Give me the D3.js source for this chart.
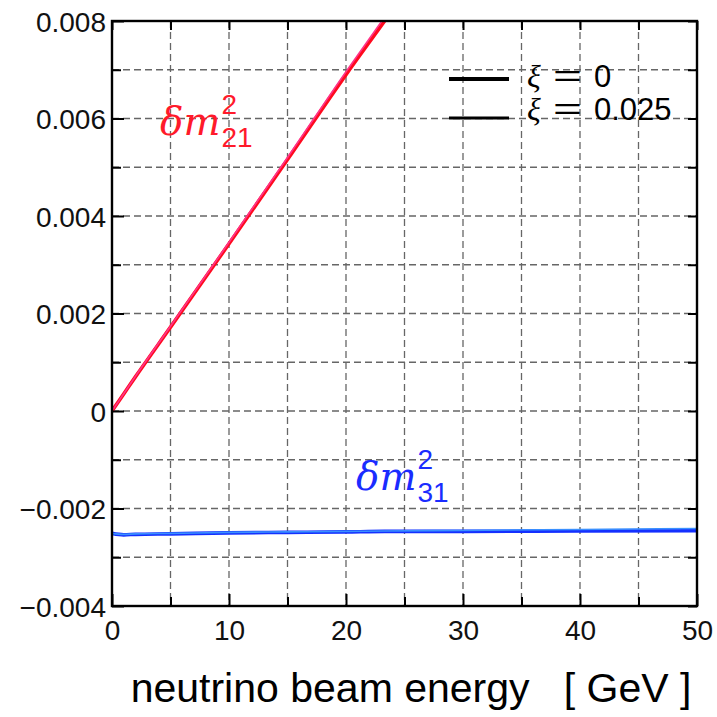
<!DOCTYPE html>
<html><head><meta charset="utf-8">
<script src="https://cdn.jsdelivr.net/npm/d3@7"></script>
<style>body{margin:0;background:#fff}svg{display:block}</style>
</head><body>
<script>
// Data (energy in GeV, effective mass-squared differences in eV^2)
const energy = [0, 1, 2, 5, 10, 15, 20, 23.3, 30, 40, 50];
const dm21_xi0     = [0, 0.00035, 0.00070, 0.00172, 0.00343, 0.00516, 0.00690, 0.00800, 0.0103, 0.0137, 0.0172];
const dm21_xi025   = [0, 0.000355, 0.00071, 0.00174, 0.00346, 0.00520, 0.00696, 0.00808, 0.0104, 0.0138, 0.0173];
const dm31_xi0     = [-0.00251, -0.00254, -0.00253, -0.00252, -0.00250, -0.00249, -0.00248, -0.00247, -0.00247, -0.00246, -0.002455];
const dm31_xi025   = [-0.00251, -0.00253, -0.00252, -0.00251, -0.00249, -0.00248, -0.00247, -0.00246, -0.00245, -0.00243, -0.00241];
const xTicks = [0, 10, 20, 30, 40, 50];
const xMinor = [0, 5, 10, 15, 20, 25, 30, 35, 40, 45, 50];
const yTicks = [-0.004, -0.002, 0, 0.002, 0.004, 0.006, 0.008];
const yMinor = [-0.004, -0.003, -0.002, -0.001, 0, 0.001, 0.002, 0.003, 0.004, 0.005, 0.006, 0.007, 0.008];
const yTickLabels = ["\u22120.004", "\u22120.002", "0", "0.002", "0.004", "0.006", "0.008"];
const legendLabels = ["0", "0.025"];
const xTitle = "neutrino beam energy   [ GeV ]";

const W = 717, H = 717;
const L = 112, R = 697, T = 21, B = 606;
const svg = d3.select("body").append("svg").attr("width", W).attr("height", H);
const x = d3.scaleLinear().domain([0, 50]).range([L, R]);
const y = d3.scaleLinear().domain([-0.004, 0.008]).range([B, T]);

const defs = svg.append("defs");
defs.append("clipPath").attr("id", "clip").append("rect")
  .attr("x", L).attr("y", T).attr("width", R - L).attr("height", B - T);

// grid
const grid = svg.append("g").attr("stroke", "#666").attr("stroke-width", 1.3).attr("stroke-dasharray", "7,4");
grid.selectAll("line.v").data(xMinor.slice(1, -1)).join("line")
  .attr("x1", d => x(d)).attr("x2", d => x(d)).attr("y1", T).attr("y2", B);
grid.selectAll("line.h").data(yMinor.slice(1, -1)).join("line").attr("class", "h")
  .attr("y1", d => y(d)).attr("y2", d => y(d)).attr("x1", L).attr("x2", R);

// curves
const line = d3.line().x((d, i) => x(energy[i])).y(d => y(d)).curve(d3.curveMonotoneX);
const curves = svg.append("g").attr("clip-path", "url(#clip)").attr("fill", "none").attr("stroke-linecap", "round");
curves.append("path").attr("d", line(dm21_xi0)).attr("stroke", "#ff0a1e").attr("stroke-width", 3.6);
curves.append("path").attr("d", line(dm21_xi025)).attr("stroke", "#ff3388").attr("stroke-width", 1.6);
curves.append("path").attr("d", line(dm31_xi0)).attr("stroke", "#1430ff").attr("stroke-width", 3.6);
curves.append("path").attr("d", line(dm31_xi025)).attr("stroke", "#3a90ff").attr("stroke-width", 1.6);

// axes with inward ticks
const axB = d3.axisBottom(x).tickValues(xMinor).tickSize(-10).tickFormat(d => xTicks.includes(d) ? d : "").tickPadding(14);
const gB = svg.append("g").attr("transform", `translate(0,${B})`).call(axB);
const axT = d3.axisTop(x).tickValues(xMinor).tickSize(-9).tickFormat("");
const gT = svg.append("g").attr("transform", `translate(0,${T})`).call(axT);
const axL = d3.axisLeft(y).tickValues(yMinor).tickSize(-9)
  .tickFormat(d => { const i = yTicks.findIndex(v => Math.abs(v - d) < 1e-9); return i >= 0 ? yTickLabels[i] : ""; }).tickPadding(6);
const gL = svg.append("g").attr("transform", `translate(${L},0)`).call(axL);
const axR = d3.axisRight(y).tickValues(yMinor).tickSize(-9).tickFormat("");
const gR = svg.append("g").attr("transform", `translate(${R},0)`).call(axR);
[gB, gT, gL, gR].forEach(g => {
  g.select(".domain").remove();
  g.selectAll(".tick line").attr("stroke", "#000").attr("stroke-width", 2);
  g.selectAll("text").attr("fill", "#111").attr("font-family", "Liberation Sans, Arial, sans-serif").attr("font-size", 28);
});
gB.selectAll(".tick line").attr("y2", d => xTicks.includes(d) ? -12 : -9);
gL.selectAll(".tick line").attr("x2", d => yTicks.some(v => Math.abs(v - d) < 1e-9) ? 12 : 9);
gL.selectAll("text").attr("dy", "0.36em");
gB.selectAll("text").attr("dy", "0.71em");

// frame
svg.append("rect").attr("x", L).attr("y", T).attr("width", R - L).attr("height", B - T)
  .attr("fill", "none").attr("stroke", "#000").attr("stroke-width", 2.4);

// curve labels
function massLabel(xp, yp, color, sub) {
  const g = svg.append("g").attr("fill", color);
  const main = g.append("text").attr("x", xp).attr("y", yp)
    .attr("font-family", "DejaVu Serif, serif").attr("font-style", "italic").attr("font-size", 39)
    .text("\u03b4m");
  const tw = main.node().getComputedTextLength();
  g.append("text").attr("x", xp + tw + 1).attr("y", yp - 21)
    .attr("font-family", "Liberation Sans, sans-serif").attr("font-size", 28).text("2");
  g.append("text").attr("x", xp + tw + 1).attr("y", yp + 12)
    .attr("font-family", "Liberation Sans, sans-serif").attr("font-size", 28).text(sub);
}
massLabel(160, 135, "#ff1a2a", "21");
massLabel(356, 490, "#1a2cff", "31");

// legend
const lg = svg.append("g");
const legY = [79, 118], legW = [4, 3], legBase = [87, 120];
legendLabels.forEach((lab, i) => {
  lg.append("line").attr("x1", 449).attr("x2", 509).attr("y1", legY[i]).attr("y2", legY[i])
    .attr("stroke", "#000").attr("stroke-width", legW[i]);
  lg.append("text").attr("x", 527).attr("y", legBase[i])
    .attr("font-family", "Liberation Serif, serif").attr("font-style", "italic").attr("font-size", 32)
    .attr("fill", "#000").text("\u03be");
  lg.append("text").attr("x", 553).attr("y", legBase[i] - 1)
    .attr("font-family", "Liberation Sans, sans-serif").attr("font-size", 30)
    .attr("textLength", 29).attr("lengthAdjust", "spacingAndGlyphs").attr("fill", "#000").text("=");
  lg.append("text").attr("x", 594).attr("y", legBase[i])
    .attr("font-family", "Liberation Sans, sans-serif").attr("font-size", 31)
    .attr("fill", "#000").text(lab);
});

// x title
svg.append("text").attr("x", 411).attr("y", 702).attr("text-anchor", "middle")
  .attr("font-family", "Liberation Sans, Arial, sans-serif").attr("font-size", 41).attr("fill", "#000")
  .style("white-space", "pre").text(xTitle);
</script>
</body></html>
